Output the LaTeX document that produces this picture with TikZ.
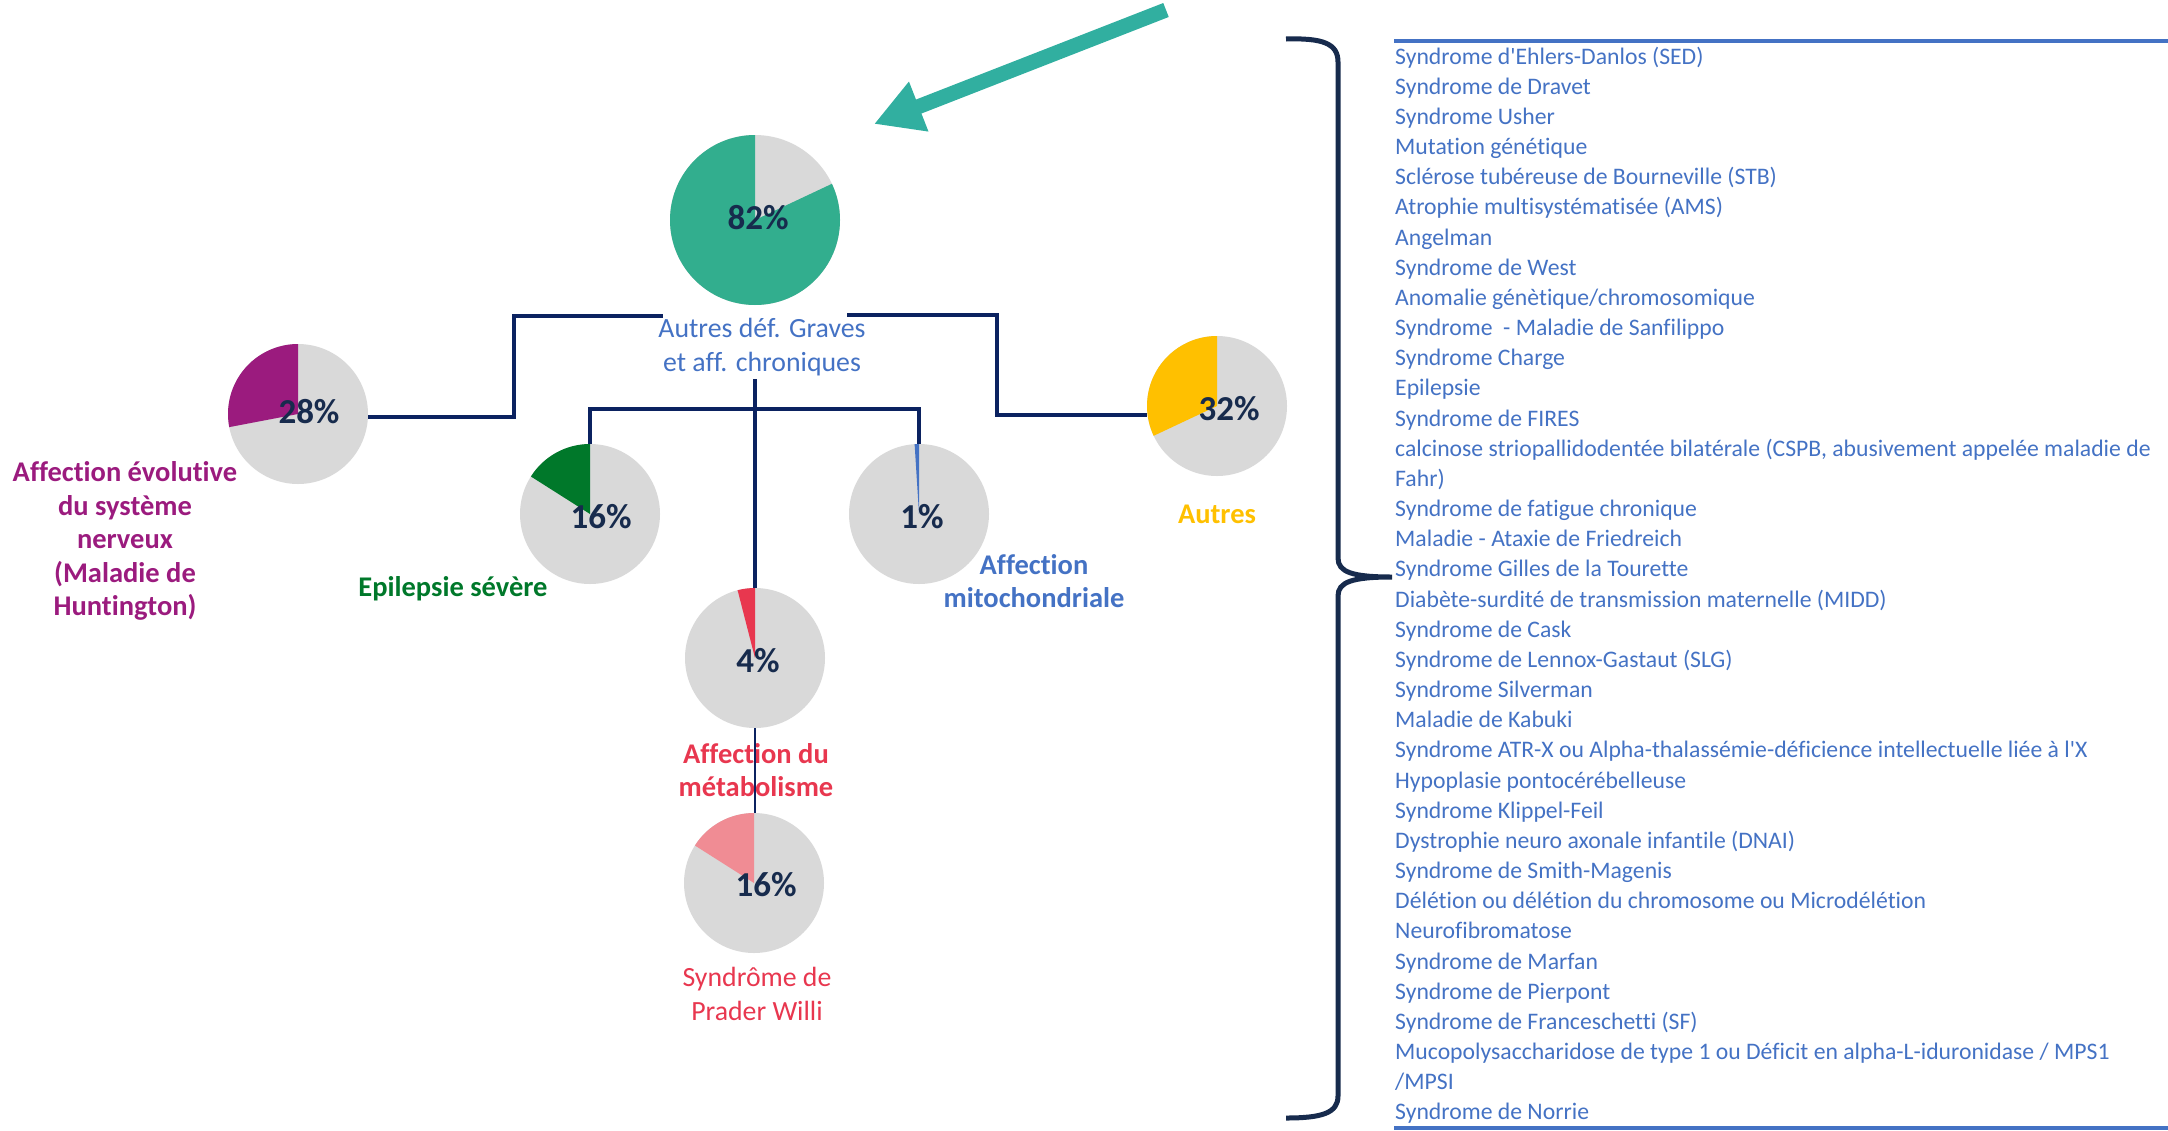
\documentclass[tikz,border=0pt]{standalone}
\usepackage{fontspec}
\setmainfont{Carlito}[Ligatures={TeXOff,NoCommon}]
\usetikzlibrary{arrows.meta}
\definecolor{gris}{HTML}{D9D9D9}
\definecolor{marine}{HTML}{0B2260}
\definecolor{encre}{HTML}{172B4D}
\definecolor{sarcelle}{HTML}{32AE8E}
\definecolor{turquoise}{HTML}{31AFA0}
\definecolor{pourpre}{HTML}{9B1B7E}
\definecolor{vertfonce}{HTML}{00782A}
\definecolor{bleuclair}{HTML}{4472C4}
\definecolor{jaune}{HTML}{FFC000}
\definecolor{rouge}{HTML}{E8374F}
\definecolor{rosepale}{HTML}{F08C94}
\tikzset{
  camembert/.style = {circle, fill=gris, inner sep=0pt},
  pct/.style       = {font=\fontsize{35}{40}\selectfont\bfseries, text=encre, inner sep=0pt},
  etiq/.style      = {align=center, font=\fontsize{27.8}{33.5}\selectfont},
  etiqgras/.style  = {align=center, font=\fontsize{28.5}{33.5}\selectfont\bfseries},
  lien/.style      = {marine, line width=3.5pt},
  liste/.style     = {anchor=base west, inner sep=0pt, text=bleuclair, font=\fontsize{23.7}{28}\selectfont},
  fleche/.style    = {turquoise, line width=15pt, -{Triangle[length=48pt, width=50pt]}}
}

\begin{document}
\begin{tikzpicture}[x=1pt, y=-1pt]
  \useasboundingbox (0,0) rectangle (2168,1130);

  \foreach \nom/\x/\y/\r/\p/\c/\tx/\ty in {
      p82/755/220/85/82/sarcelle/758/218,
      p28/298/414/70/28/pourpre/309/412,
      pepi/590/514/70/16/vertfonce/601/517,
      pmito/919/514/70/1/bleuclair/922/517,
      p32/1217/406/70/32/jaune/1229/409,
      pmeta/755/658/70/4/rouge/758/661,
      ppw/754/883/70/16/rosepale/766/885}{
    \node[camembert, minimum size={2*\r*1pt}] (\nom) at (\x,\y) {};
    \fill[\c] (\nom.center) -- ++(-90:\r) arc[start angle=-90, end angle={-90-3.6*\p}, radius=\r] -- cycle;
    \node[pct] (t\nom) at (\tx,\ty) {\p\%};
  }

  \node[etiq, text=bleuclair] (racine) at (762,347) {Autres déf. Graves\\et aff. chroniques};
  \node[etiqgras, text=pourpre] (lhunt) at (125,541)
    {Affection évolutive\\du système\\nerveux\\(Maladie de\\Huntington)};
  \node[etiqgras, text=vertfonce] (lepi) at (453,589) {Epilepsie sévère};
  \node[etiqgras, text=bleuclair] (lmito) at (1034,581) {Affection\\mitochondriale};
  \node[etiqgras, text=jaune] (lautres) at (1217,514) {Autres};
  \node[etiqgras, text=rouge] (lmeta) at (756,770) {Affection du\\métabolisme};
  \node[etiq, text=rouge] (lpw) at (757,994) {Syndrôme de\\Prader Willi};

  \draw[lien] ([yshift=-3pt]p28.east) -| (514,316) -- (663,316);
  \draw[lien] (847,315) -- (997,315) |- ([yshift=-9pt]p32.west);
  \draw[lien] (racine.south -| pmeta.north) -- (pmeta.north);
  \draw[lien] (pepi.north) -- ++(0,-35) -| (pmito.north);
  \draw[marine, line width=1.2pt] (pmeta.south) -- (pmeta.south |- ppw.north);

  \coordinate (depart) at (1166,10);
  \coordinate (pointe) at (874,124);
  \draw[fleche] (depart) -- (pointe);

  \draw[encre, line width=5pt] (1286,39) .. controls (1322,38) and (1338,43) .. (1338,62)
    -- (1338,558) .. controls (1338,572) and (1352,577) .. (1392,577)
    .. controls (1352,577) and (1338,582) .. (1338,596)
    -- (1338,1096) .. controls (1338,1113) and (1322,1118) .. (1286,1118);

  \draw[bleuclair, line width=4pt] (1394,41) -- (2168,41);
  \draw[bleuclair, line width=4pt] (1394,1128) -- (2168,1128);

  \foreach \t [count=\i from 0] in {
      Syndrome d'Ehlers-Danlos (SED),
      Syndrome de Dravet,
      Syndrome Usher,
      Mutation génétique,
      Sclérose tubéreuse de Bourneville (STB),
      Atrophie multisystématisée (AMS),
      Angelman,
      Syndrome de West,
      {Anomalie génètique/chromosomique},
      Syndrome\ \ - Maladie de Sanfilippo,
      Syndrome Charge,
      Epilepsie,
      Syndrome de FIRES,
      {calcinose striopallidodentée bilatérale (CSPB, abusivement appelée maladie de},
      Fahr),
      Syndrome de fatigue chronique,
      Maladie - Ataxie de Friedreich,
      Syndrome Gilles de la Tourette,
      Diabète-surdité de transmission maternelle (MIDD),
      Syndrome de Cask,
      Syndrome de Lennox-Gastaut (SLG),
      Syndrome Silverman,
      Maladie de Kabuki,
      Syndrome ATR-X ou Alpha-thalassémie-déficience intellectuelle liée à l'X,
      Hypoplasie pontocérébelleuse,
      Syndrome Klippel-Feil,
      Dystrophie neuro axonale infantile (DNAI),
      Syndrome de Smith-Magenis,
      Délétion ou délétion du chromosome ou Microdélétion,
      Neurofibromatose,
      Syndrome de Marfan,
      Syndrome de Pierpont,
      Syndrome de Franceschetti (SF),
      {Mucopolysaccharidose de type 1 ou Déficit en alpha-L-iduronidase / MPS1},
      {/MPSI},
      Syndrome de Norrie}{
    \node[liste] (item\i) at (1395,{64+30.17*\i}) {\t};
  }
\end{tikzpicture}
\end{document}
